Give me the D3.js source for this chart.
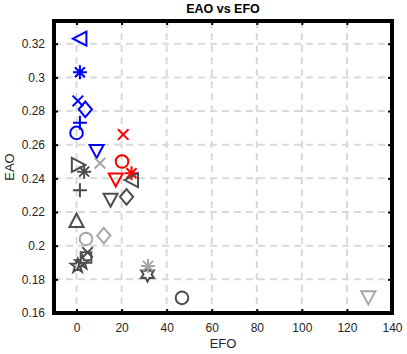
<!DOCTYPE html>
<html><head><meta charset="utf-8">
<script src="https://cdn.jsdelivr.net/npm/d3@7"></script>
<style>body{margin:0;background:#fff;} svg{display:block;font-family:"Liberation Sans",Arial,sans-serif;}</style>
</head><body>
<svg id="c" width="407" height="354"></svg>
<script>
// data
const efo    = [1.5, 1.5, 0.6, 3.9, 1.5, 0.0, 8.9,   20.7, 20.2, 24.4, 17.4,   0.8, 3.4, 1.5, 24.4, 15.1, 22.2, 0.0, 4.9, 4.2, 0.5, 2.5, 31.5, 46.8,   10.4, 4.2, 12.1, 31.7, 129.5];
const eao    = [0.323, 0.303, 0.286, 0.281, 0.273, 0.267, 0.256,   0.266, 0.250, 0.243, 0.239,   0.248, 0.244, 0.233, 0.239, 0.227, 0.229, 0.215, 0.196, 0.193, 0.188, 0.190, 0.183, 0.169,   0.249, 0.204, 0.206, 0.188, 0.169];
const group  = ["blue","blue","blue","blue","blue","blue","blue",  "red","red","red","red",  "dark","dark","dark","dark","dark","dark","dark","dark","dark","dark","dark","dark","dark",  "light","light","light","light","light"];
const marker = ["<","*","x","d","+","o","v",  "x","o","*","v",  ">","*","+","<","v","d","^","x","s","p","p","h","o",  "x","o","d","*","v"];
const xTicks = [0,20,40,60,80,100,120,140];
const yTicks = [0.16,0.18,0.2,0.22,0.24,0.26,0.28,0.3,0.32];
const yTickLabels = ["0.16","0.18","0.2","0.22","0.24","0.26","0.28","0.3","0.32"];

const colorOf = {blue:"#0000ff", red:"#ff0000", dark:"#4d4d4d", light:"#a6a6a6"};

const svg = d3.select("#c");
const L=54, R=392, T=21, B=313;
const x = d3.scaleLinear().domain([-10,140]).range([L,R]);
const y = d3.scaleLinear().domain([0.16,0.3335]).range([B,T]);

// grid
const g = svg.append("g");
g.selectAll(".gx").data(xTicks).enter().append("line")
  .attr("x1",d=>x(d)).attr("x2",d=>x(d)).attr("y1",T).attr("y2",B)
  .attr("stroke","#d9d9d9").attr("stroke-width",2).attr("stroke-dasharray","7,5");
g.selectAll(".gy").data(yTicks).enter().append("line")
  .attr("y1",d=>y(d)).attr("y2",d=>y(d)).attr("x1",L).attr("x2",R)
  .attr("stroke","#d9d9d9").attr("stroke-width",2).attr("stroke-dasharray","7,5");

// axes (ticks inside)
const axB = d3.axisBottom(x).tickValues(xTicks).tickSizeInner(-4).tickSizeOuter(0).tickPadding(10);
const axL = d3.axisLeft(y).tickValues(yTicks).tickFormat((d,i)=>yTickLabels[i]).tickSizeInner(-4).tickSizeOuter(0).tickPadding(9);
const axT = d3.axisTop(x).tickValues(xTicks).tickSizeInner(-4).tickSizeOuter(0).tickFormat("");
const axR = d3.axisRight(y).tickValues(yTicks).tickSizeInner(-4).tickSizeOuter(0).tickFormat("");
function styleAx(sel){
  sel.select(".domain").remove();
  sel.selectAll(".tick line").attr("stroke","#000").attr("stroke-width",2);
  sel.selectAll("text").attr("fill","#262626").style("font-size","12px").style("font-family","Liberation Sans, Arial, sans-serif");
}
svg.append("g").attr("transform",`translate(0,${B})`).call(axB).call(styleAx);
svg.append("g").attr("transform",`translate(${L},0)`).call(axL).call(styleAx);
svg.append("g").attr("transform",`translate(0,${T})`).call(axT).call(styleAx);
svg.append("g").attr("transform",`translate(${R},0)`).call(axR).call(styleAx);

// box
svg.append("rect").attr("x",L).attr("y",T).attr("width",R-L).attr("height",B-T)
  .attr("fill","none").attr("stroke","#000").attr("stroke-width",4);

// marker paths
function starPath(n, ro, ri){
  let p=[];
  for(let i=0;i<2*n;i++){
    const r = i%2===0?ro:ri;
    const a = -Math.PI/2 + i*Math.PI/n;
    p.push([r*Math.cos(a), r*Math.sin(a)]);
  }
  return "M"+p.map(q=>q[0].toFixed(2)+","+q[1].toFixed(2)).join("L")+"Z";
}
function markerPath(m){
  const s=7;
  switch(m){
    case "o": return d3.arc()({innerRadius:0,outerRadius:6.3,startAngle:0,endAngle:2*Math.PI});
    case "s": return "M-5.3,-5.3L5.3,-5.3L5.3,5.3L-5.3,5.3Z";
    case "d": return "M0,-7.8L6.6,0L0,7.8L-6.6,0Z";
    case "^": return `M0,${-s}L${s},${s-0.5}L${-s},${s-0.5}Z`;
    case "v": return `M0,${s-0.5}L${s},${-s+0.5}L${-s},${-s+0.5}Z`;
    case "<": return `M${-s},0L${s-0.5},${-s}L${s-0.5},${s}Z`;
    case ">": return `M${s},0L${-s+0.5},${-s}L${-s+0.5},${s}Z`;
    case "+": return `M${-s},0L${s},0M0,${-s}L0,${s}`;
    case "x": return "M-5.3,-5.3L5.3,5.3M-5.3,5.3L5.3,-5.3";
    case "*": return `M${-s},0L${s},0M0,${-s}L0,${s}M-5,-5L5,5M-5,5L5,-5`;
    case "p": return starPath(5,7.3,3.0);
    case "h": return starPath(6,7.3,4.0);
  }
}
const idx = d3.range(efo.length);
svg.append("g").selectAll("path").data(idx).enter().append("path")
  .attr("transform",i=>`translate(${x(efo[i])},${y(eao[i])})`)
  .attr("d",i=>markerPath(marker[i]))
  .attr("fill","none").attr("stroke",i=>colorOf[group[i]]).attr("stroke-width",2)
  .attr("stroke-linejoin","miter");

// labels
svg.append("text").attr("x",(L+R)/2).attr("y",13).attr("text-anchor","middle")
  .style("font-size","12.5px").style("font-weight","bold").attr("fill","#000").text("EAO vs EFO");
svg.append("text").attr("x",(L+R)/2).attr("y",348).attr("text-anchor","middle")
  .style("font-size","13px").attr("fill","#262626").text("EFO");
svg.append("text").attr("transform",`translate(14,${(T+B)/2}) rotate(-90)`).attr("text-anchor","middle")
  .style("font-size","13px").attr("fill","#262626").text("EAO");
</script>
</body></html>
